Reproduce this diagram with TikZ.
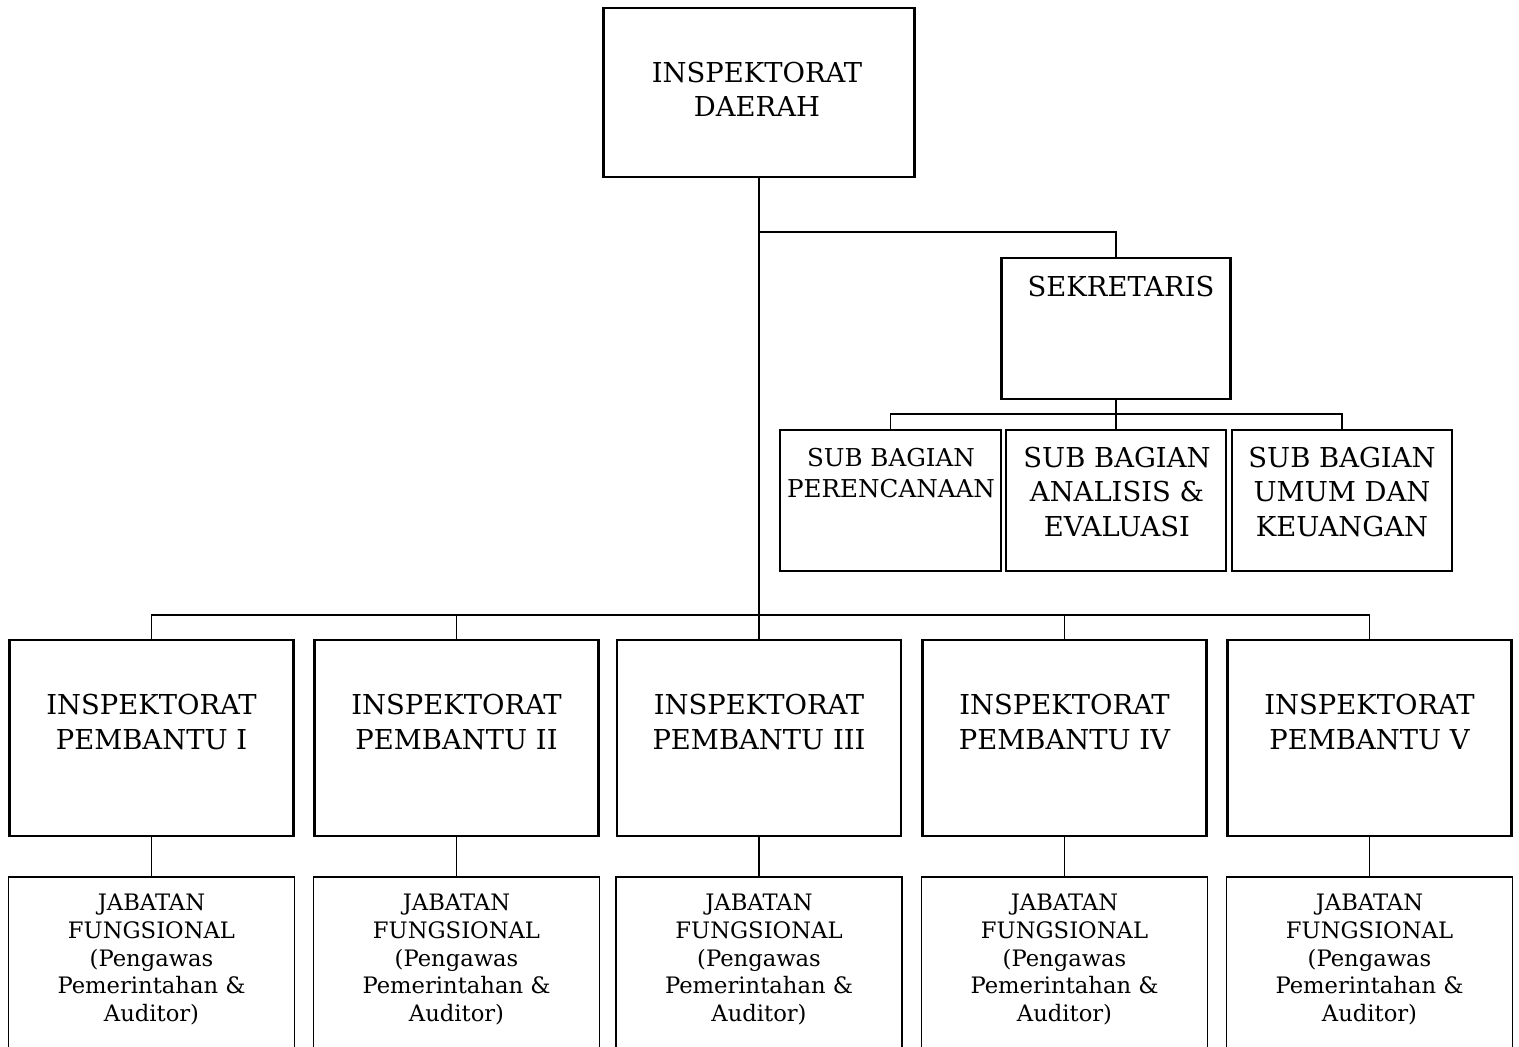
\documentclass[tikz,border=0pt]{standalone}
\usepackage{fontspec}
\setmainfont{DejaVu Serif}
\usepackage{tikz}
\usetikzlibrary{calc, positioning}

\tikzset{
	box/.style = {draw, line width = 1.6pt, inner sep = 0pt},
	fnbox/.style = {draw, line width = 1.1pt, inner sep = 0pt},
	link/.style = {line width = 1.1pt},
	bigtext/.style = {align = center, inner sep = 0pt, font = \fontsize{15.6}{19.5}\selectfont},
	midtext/.style = {align = center, inner sep = 0pt, font = \fontsize{14}{18}\selectfont},
	smalltext/.style = {align = center, inner sep = 0pt, font = \fontsize{12.9}{15.9}\selectfont}
}

\begin{document}
\begin{tikzpicture}[x = 0.02cm, y = -0.02cm]
		\def\u{0.02cm};
		
		\useasboundingbox (0,0) rectangle (1519,1047);
		
		% kepala dan sekretaris
		\node [box, minimum width = 311*\u, minimum height = 169*\u] (kepala) at (759,92.5) {};
		\node [bigtext] (tkepala) at (757,89) {INSPEKTORAT\\DAERAH};
		
		\node [box, minimum width = 229*\u, minimum height = 141*\u] (sek) at (1116,328.5) {};
		\node [bigtext] (tsek) at (1121,287) {SEKRETARIS};
		
		% sub bagian
		\node [box, minimum width = 221*\u, minimum height = 141*\u] (sb1) at (890.5,500.5) {};
		\node [box, minimum width = 220*\u, minimum height = 141*\u] (sb2) at (1116,500.5) {};
		\node [box, minimum width = 220*\u, minimum height = 141*\u] (sb3) at (1342,500.5) {};
		\node [midtext] (tsb1) at (891,473) {SUB BAGIAN\\PERENCANAAN};
		\node [bigtext] (tsb2) at (1117,492) {SUB BAGIAN\\ANALISIS \&\\EVALUASI};
		\node [bigtext] (tsb3) at (1342,492) {SUB BAGIAN\\UMUM DAN\\KEUANGAN};
		
		% inspektorat pembantu dan jabatan fungsional
		\foreach \x/\n/\r in {151.5/1/I, 456.5/2/II, 759/3/III, 1064.5/4/IV, 1369.5/5/V}{
			\node [box, minimum width = 284*\u, minimum height = 196*\u] (p\n) at (\x,738) {};
			\node [bigtext] (tp\n) at (\x,722) {INSPEKTORAT\\PEMBANTU \r};
			\node [fnbox, minimum width = 286*\u, minimum height = 198*\u] (j\n) at (\x,976) {};
			\node [smalltext] (tj\n) at (\x,959.5) {JABATAN\\FUNGSIONAL\\(Pengawas\\Pemerintahan \&\\Auditor)};
		}
		
		\coordinate (sekbus) at (759,232);
		\coordinate (subbus) at (1116,414);
		\coordinate (bus) at (759,615);
		
		\draw [link] (kepala) -- (bus);
		\draw [link] (sekbus) -| (sek.north);
		\draw [link] (sek) -- (subbus);
		\foreach \n in {1,2,3}
			\draw [link] (subbus) -| (sb\n.north);
		\foreach \n in {1,...,5}{
			\draw [link] (bus) -| (p\n.north);
			\draw [link] (p\n) -- (j\n);
		}
	\end{tikzpicture}
\end{document}
